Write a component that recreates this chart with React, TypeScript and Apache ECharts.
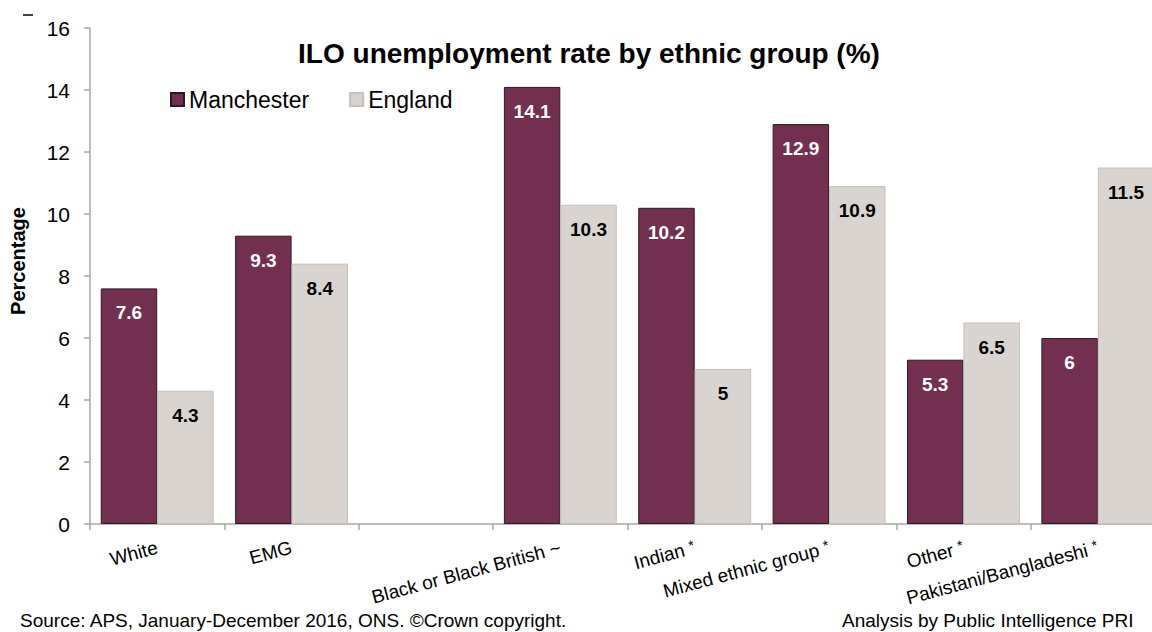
import React, { useEffect, useRef } from "react";
import * as echarts from "echarts";

const categories = [
  "White",
  "EMG",
  "",
  "Black or Black British ~",
  "Indian *",
  "Mixed ethnic group *",
  "Other *",
  "Pakistani/Bangladeshi *",
];
const manchester: (number | null)[] = [7.6, 9.3, null, 14.1, 10.2, 12.9, 5.3, 6];
const england: (number | null)[] = [4.3, 8.4, null, 10.3, 5, 10.9, 6.5, 11.5];
const yTicks = { min: 0, max: 16, interval: 2 };

const FONT = "'Liberation Sans', Arial, sans-serif";

export default function App() {
  const ref = useRef<HTMLDivElement>(null);
  useEffect(() => {
    if (!ref.current) return;
    const chart = echarts.init(ref.current, null, { renderer: "svg" });
    const barLabel = (color: string) => ({
      show: true,
      position: "insideTop" as const,
      distance: 15,
      color,
      fontFamily: FONT,
      fontWeight: "bold" as const,
      fontSize: 19,
    });
    chart.setOption({
      animation: false,
      backgroundColor: "#ffffff",
      textStyle: { fontFamily: FONT },
      title: {
        text: "ILO unemployment rate by ethnic group (%)",
        left: 584,
        textAlign: "center",
        top: 34,
        textStyle: { fontFamily: FONT, fontWeight: "bold", fontSize: 28, color: "#000" },
      },
      legend: {
        left: 165,
        top: 83,
        itemWidth: 13,
        itemHeight: 13,
        itemGap: 40,
        icon: "rect",
        textStyle: { fontFamily: FONT, fontSize: 23, color: "#000" },
        data: ["Manchester", "England"],
      },
      grid: { left: 90, right: 0, top: 28, bottom: 108, containLabel: false },
      xAxis: {
        type: "category",
        data: categories,
        axisLine: { lineStyle: { color: "#a6a6a6", width: 1.5 } },
        axisTick: { show: true, length: 6, lineStyle: { color: "#a6a6a6", width: 1.5 } },
        axisLabel: {
          interval: 0,
          rotate: 15,
          margin: 23,
          fontFamily: FONT,
          fontSize: 19,
          color: "#000",
          formatter: (v: string) => {
            if (!v) return "";
            if (v.endsWith(" *")) return `{n|${v.slice(0, -1)}}{sup|*}`;
            return `{n|${v}}`;
          },
          rich: {
            n: { fontFamily: FONT, fontSize: 19, color: "#000" },
            sup: { fontFamily: FONT, fontSize: 14, color: "#000", verticalAlign: "top" },
          },
        },
      },
      yAxis: {
        type: "value",
        min: yTicks.min,
        max: yTicks.max,
        interval: yTicks.interval,
        name: "Percentage",
        nameLocation: "middle",
        nameGap: 62,
        nameTextStyle: {
          fontFamily: FONT,
          fontWeight: "bold",
          fontSize: 20,
          color: "#000",
          padding: [0, 0, 0, 30],
        },
        splitLine: { show: false },
        axisLine: { show: true, lineStyle: { color: "#a6a6a6", width: 1.5 } },
        axisTick: { show: true, length: 6, inside: false, lineStyle: { color: "#a6a6a6", width: 1.5 } },
        axisLabel: { margin: 20, fontFamily: FONT, fontSize: 21, color: "#000" },
      },
      series: [
        {
          name: "Manchester",
          type: "bar",
          data: manchester,
          barGap: "0%",
          barCategoryGap: "16%",
          itemStyle: { color: "#722F4F", borderColor: "#2b1a22", borderWidth: 1 },
          label: barLabel("#ffffff"),
        },
        {
          name: "England",
          type: "bar",
          data: england,
          itemStyle: { color: "#DAD4D0", borderColor: "#c4c0bc", borderWidth: 1 },
          label: barLabel("#000000"),
        },
      ],
      graphic: [
        {
          type: "line",
          shape: { x1: 23, y1: 15, x2: 33, y2: 15 },
          style: { stroke: "#000", lineWidth: 1.5 },
        },
        {
          type: "text",
          left: 20,
          top: 611,
          style: {
            text: "Source: APS, January-December 2016, ONS. ©Crown copyright.",
            fontFamily: FONT,
            fontSize: 19,
            fill: "#000",
          },
        },
        {
          type: "text",
          left: 842,
          top: 611,
          style: {
            text: "Analysis by Public Intelligence PRI",
            fontFamily: FONT,
            fontSize: 19,
            fill: "#000",
          },
        },
      ],
    });
    return () => chart.dispose();
  }, []);
  return (
    <div
      style={{
        position: "absolute",
        left: 0,
        top: 0,
        width: 1152,
        height: 632,
        overflow: "hidden",
      }}
    >
      <div ref={ref} style={{ width: 1165, height: 632 }} />
    </div>
  );
}
